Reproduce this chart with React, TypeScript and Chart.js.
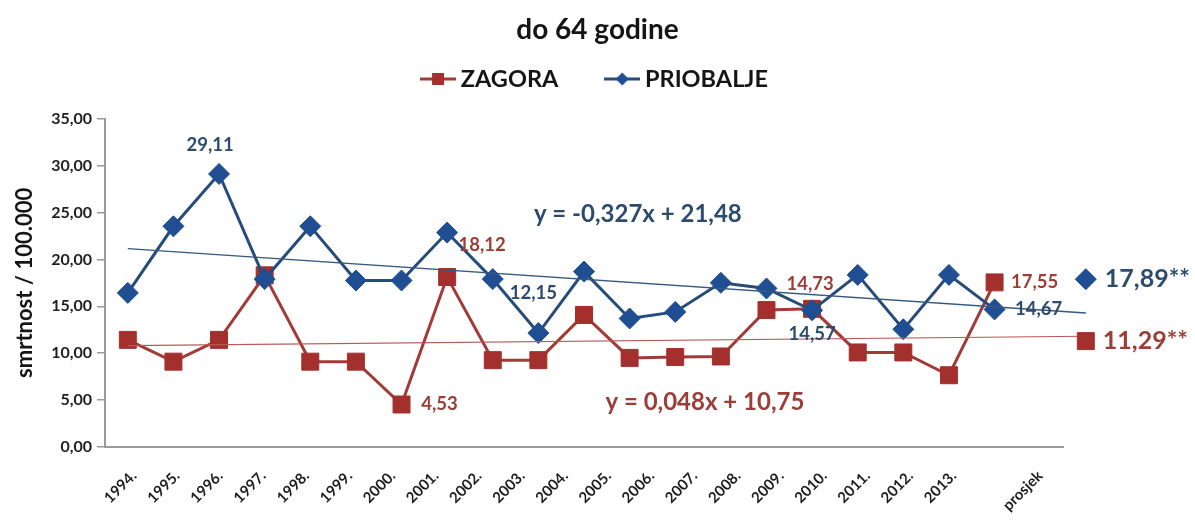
import React, { useEffect, useRef } from 'react';
import { Chart, registerables } from 'chart.js';

Chart.register(...registerables);

// ---------- data ----------
const yearLabels = [
  '1994.', '1995.', '1996.', '1997.', '1998.', '1999.', '2000.', '2001.', '2002.', '2003.',
  '2004.', '2005.', '2006.', '2007.', '2008.', '2009.', '2010.', '2011.', '2012.', '2013.',
];
const averageLabel = 'prosjek';

const zagora = [
  11.42, 9.1, 11.42, 18.3, 9.1, 9.1, 4.53, 18.12, 9.26, 9.26,
  14.08, 9.5, 9.6, 9.65, 14.6, 14.73, 10.08, 10.08, 7.65, 17.55,
];
const priobalje = [
  16.43, 23.53, 29.11, 17.9, 23.53, 17.75, 17.75, 22.86, 17.9, 12.15,
  18.7, 13.7, 14.4, 17.5, 16.9, 14.57, 18.35, 12.55, 18.35, 14.67,
];
const zagoraAverage = [11.29];
const priobaljeAverage = [17.89];

// linear trend lines as printed on the chart (x = 1 for 1994)
const zagoraTrend = { slope: 0.048, intercept: 10.75 };
const priobaljeTrend = { slope: -0.327, intercept: 21.48 };

const yTickValues = [0, 5, 10, 15, 20, 25, 30, 35];

// ---------- styling ----------
const FONT = "Lato, 'Open Sans', 'DejaVu Sans', sans-serif";
const RED_LINE = '#A23B38';
const RED_MARK = '#A3302D';
const RED_TEXT = '#9C3D36';
const BLUE_LINE = '#264C79';
const BLUE_MARK = '#1F4E93';
const BLUE_TEXT = '#2D4B6C';
const AXIS_GRAY = '#9A9A9A';

const fmt = (v: number) => v.toFixed(2).replace('.', ',');
const fmtCoef = (v: number) => String(v).replace('.', ',');

const averageX = yearLabels.length + 1; // position of "prosjek" markers
const trendPoints = (t: { slope: number; intercept: number }) => [
  { x: 0, y: t.intercept + t.slope * 1 },
  { x: averageX, y: t.intercept + t.slope * (averageX + 1) },
];

// which points get value labels, with pixel offsets from the point
const valueLabels = [
  { series: 'priobalje', index: 2, dx: -9, dy: -29 },
  { series: 'zagora', index: 7, dx: 35, dy: -32 },
  { series: 'priobalje', index: 9, dx: -5, dy: -40 },
  { series: 'zagora', index: 6, dx: 38, dy: 0 },
  { series: 'zagora', index: 15, dx: -2, dy: -25 },
  { series: 'priobalje', index: 15, dx: 0, dy: 24 },
  { series: 'zagora', index: 19, dx: 40, dy: 0 },
  { series: 'priobalje', index: 19, dx: 44, dy: 0 },
];

const equationLabels = [
  { trend: priobaljeTrend, x: 11.18, y: 24.76, color: BLUE_TEXT },
  { trend: zagoraTrend, x: 12.65, y: 4.8, color: RED_TEXT },
];

function makeIcon(lineColor: string, markColor: string, shape: 'rect' | 'diamond') {
  const c = document.createElement('canvas');
  c.width = 36;
  c.height = 16;
  const g = c.getContext('2d')!;
  g.strokeStyle = lineColor;
  g.lineWidth = 3;
  g.beginPath();
  g.moveTo(0, 8);
  g.lineTo(36, 8);
  g.stroke();
  g.fillStyle = markColor;
  if (shape === 'rect') {
    g.fillRect(12, 2, 12, 12);
  } else {
    g.beginPath();
    g.moveTo(18, 1.5);
    g.lineTo(24.5, 8);
    g.lineTo(18, 14.5);
    g.lineTo(11.5, 8);
    g.closePath();
    g.fill();
  }
  return c;
}

const AVERAGE_DATASETS = [4, 5];

const labelsPlugin = {
  id: 'valueLabels',
  afterDatasetsDraw(chart: any) {
    const { ctx, scales } = chart;
    const xs = scales.x;
    const ys = scales.y;
    ctx.save();
    // average markers sit to the right of the plotted axis range: draw their point elements unclipped
    for (const di of AVERAGE_DATASETS) {
      chart.getDatasetMeta(di).data.forEach((p: any) => p.draw(ctx));
    }
    const seriesData: Record<string, number[]> = { zagora, priobalje };
    ctx.textBaseline = 'middle';
    ctx.textAlign = 'center';
    ctx.font = `bold 18.5px ${FONT}`;
    for (const l of valueLabels) {
      const v = seriesData[l.series][l.index];
      const px = xs.getPixelForValue(l.index) + l.dx;
      const py = ys.getPixelForValue(v) + l.dy;
      ctx.fillStyle = l.series === 'zagora' ? RED_TEXT : BLUE_TEXT;
      ctx.fillText(fmt(v), px, py);
    }
    // averages
    ctx.font = `bold 25px ${FONT}`;
    ctx.textAlign = 'left';
    const avgs = [
      { v: priobaljeAverage[0], color: BLUE_TEXT, dx: 19 },
      { v: zagoraAverage[0], color: RED_TEXT, dx: 17 },
    ];
    for (const a of avgs) {
      ctx.fillStyle = a.color;
      ctx.fillText(fmt(a.v) + '**', xs.getPixelForValue(averageX) + a.dx, ys.getPixelForValue(a.v));
    }
    // trend equations
    ctx.font = `bold 24px ${FONT}`;
    ctx.textAlign = 'center';
    for (const e of equationLabels) {
      const sign = e.trend.slope < 0 ? '-' : '';
      const txt = `y = ${sign}${fmtCoef(Math.abs(e.trend.slope))}x + ${fmtCoef(e.trend.intercept)}`;
      ctx.fillStyle = e.color;
      ctx.fillText(txt, xs.getPixelForValue(e.x), ys.getPixelForValue(e.y));
    }
    ctx.restore();
  },
};

export default function App() {
  const ref = useRef<HTMLCanvasElement>(null);

  useEffect(() => {
    document.body.style.margin = '0';
    const icons = [makeIcon(RED_LINE, RED_MARK, 'rect'), makeIcon(BLUE_LINE, BLUE_MARK, 'diamond')];
    const labelTickValues = [...yearLabels.map((_, i) => i), yearLabels.length + 1];
    const allXLabels = [...yearLabels, averageLabel];

    const chart = new Chart(ref.current!, {
      type: 'line',
      data: {
        datasets: [
          {
            label: 'ZAGORA',
            data: zagora.map((y, i) => ({ x: i, y })),
            borderColor: RED_LINE,
            borderWidth: 3,
            pointStyle: 'rect',
            pointRadius: 12,
            pointBackgroundColor: RED_MARK,
            pointBorderColor: RED_MARK,
            pointBorderWidth: 1,
            tension: 0,
            order: 3,
          },
          {
            label: 'PRIOBALJE',
            data: priobalje.map((y, i) => ({ x: i, y })),
            borderColor: BLUE_LINE,
            borderWidth: 3,
            pointStyle: 'rectRot',
            pointRadius: 10.5,
            pointBackgroundColor: BLUE_MARK,
            pointBorderColor: BLUE_MARK,
            pointBorderWidth: 1,
            tension: 0,
            order: 2,
          },
          {
            label: 'ZAGORA trend',
            data: trendPoints(zagoraTrend),
            borderColor: '#B65A58',
            borderWidth: 1.2,
            pointRadius: 0,
            clip: false,
            order: 1,
          },
          {
            label: 'PRIOBALJE trend',
            data: trendPoints(priobaljeTrend),
            borderColor: '#35597F',
            borderWidth: 1.3,
            pointRadius: 0,
            clip: false,
            order: 1,
          },
          {
            label: 'ZAGORA prosjek',
            data: zagoraAverage.map((y) => ({ x: averageX, y })),
            showLine: false,
            pointStyle: 'rect',
            pointRadius: 12,
            pointBackgroundColor: RED_MARK,
            pointBorderColor: RED_MARK,
            pointBorderWidth: 1,
            clip: false,
            order: 3,
          },
          {
            label: 'PRIOBALJE prosjek',
            data: priobaljeAverage.map((y) => ({ x: averageX, y })),
            showLine: false,
            pointStyle: 'rectRot',
            pointRadius: 10.5,
            pointBackgroundColor: BLUE_MARK,
            pointBorderColor: BLUE_MARK,
            pointBorderWidth: 1,
            clip: false,
            order: 2,
          },
        ],
      },
      options: {
        responsive: false,
        devicePixelRatio: 1,
        animation: false,
        events: [],
        layout: { padding: 0 },
        plugins: {
          tooltip: { enabled: false },
          title: {
            display: true,
            text: 'do 64 godine',
            color: '#151515',
            font: { family: FONT, size: 28, weight: 'bold' },
            padding: { top: 13, bottom: 0 },
          },
          legend: {
            display: true,
            position: 'top',
            labels: {
              color: '#151515',
              font: { family: FONT, size: 23.5, weight: 'bold' },
              usePointStyle: true,
              pointStyleWidth: 22,
              padding: 20.6,
              sort: (a: any, b: any) => a.datasetIndex - b.datasetIndex,
              generateLabels: (ch: any) => {
                const items = Chart.defaults.plugins.legend.labels.generateLabels(ch);
                return items
                  .filter((it: any) => it.datasetIndex < 2)
                  .map((it: any) => ({
                    ...it,
                    pointStyle: icons[it.datasetIndex],
                    text: it.datasetIndex === 0 ? it.text + '\u2002\u2003\u2009' : it.text,
                  }));
              },
            },
          },
        },
        scales: {
          x: {
            type: 'linear',
            position: 'top',
            min: -0.5,
            max: yearLabels.length + 0.5,
            display: true,
            ticks: { display: false },
            grid: { display: false },
            border: { display: false },
            afterFit: (s: any) => {
              s.height = 18;
            },
          },
          xl: {
            type: 'linear',
            position: 'bottom',
            min: -0.672,
            max: 21.53,
            afterBuildTicks: (s: any) => {
              s.ticks = labelTickValues.map((v) => ({ value: v }));
            },
            ticks: {
              autoSkip: false,
              minRotation: 45,
              maxRotation: 45,
              padding: 12,
              color: '#1E1E1E',
              font: { family: FONT, size: 15, weight: 'bold' },
              callback: (_v: any, i: number) => allXLabels[i],
            },
            grid: { display: false },
            border: { display: true, color: AXIS_GRAY, width: 2 },
            afterFit: (s: any) => {
              s.height = 76;
            },
          },
          y: {
            type: 'linear',
            min: 0,
            max: 35,
            afterBuildTicks: (s: any) => {
              s.ticks = yTickValues.map((v) => ({ value: v }));
            },
            ticks: {
              padding: 5,
              color: '#1E1E1E',
              font: { family: FONT, size: 16, weight: 'bold' },
              callback: (v: any) => fmt(Number(v)),
            },
            grid: {
              display: true,
              drawOnChartArea: false,
              drawTicks: true,
              tickLength: 8,
              color: AXIS_GRAY,
              lineWidth: 1.5,
            },
            border: { display: true, color: AXIS_GRAY, width: 2 },
            title: {
              display: true,
              text: 'smrtnost / 100.000',
              color: '#151515',
              font: { family: FONT, size: 22, weight: 'bold' },
              padding: { top: 12, bottom: 0 },
            },
            afterFit: (s: any) => {
              s.width = 105;
            },
          },
          yRight: {
            type: 'linear',
            position: 'right',
            display: true,
            ticks: { display: false },
            grid: { display: false },
            border: { display: false },
            afterFit: (s: any) => {
              s.width = 132;
            },
          },
        },
      },
      plugins: [labelsPlugin],
    } as any);

    return () => chart.destroy();
  }, []);

  return (
    <div style={{ width: 1195, height: 523 }}>
      <canvas ref={ref} width={1195} height={523} style={{ display: 'block' }} />
    </div>
  );
}
